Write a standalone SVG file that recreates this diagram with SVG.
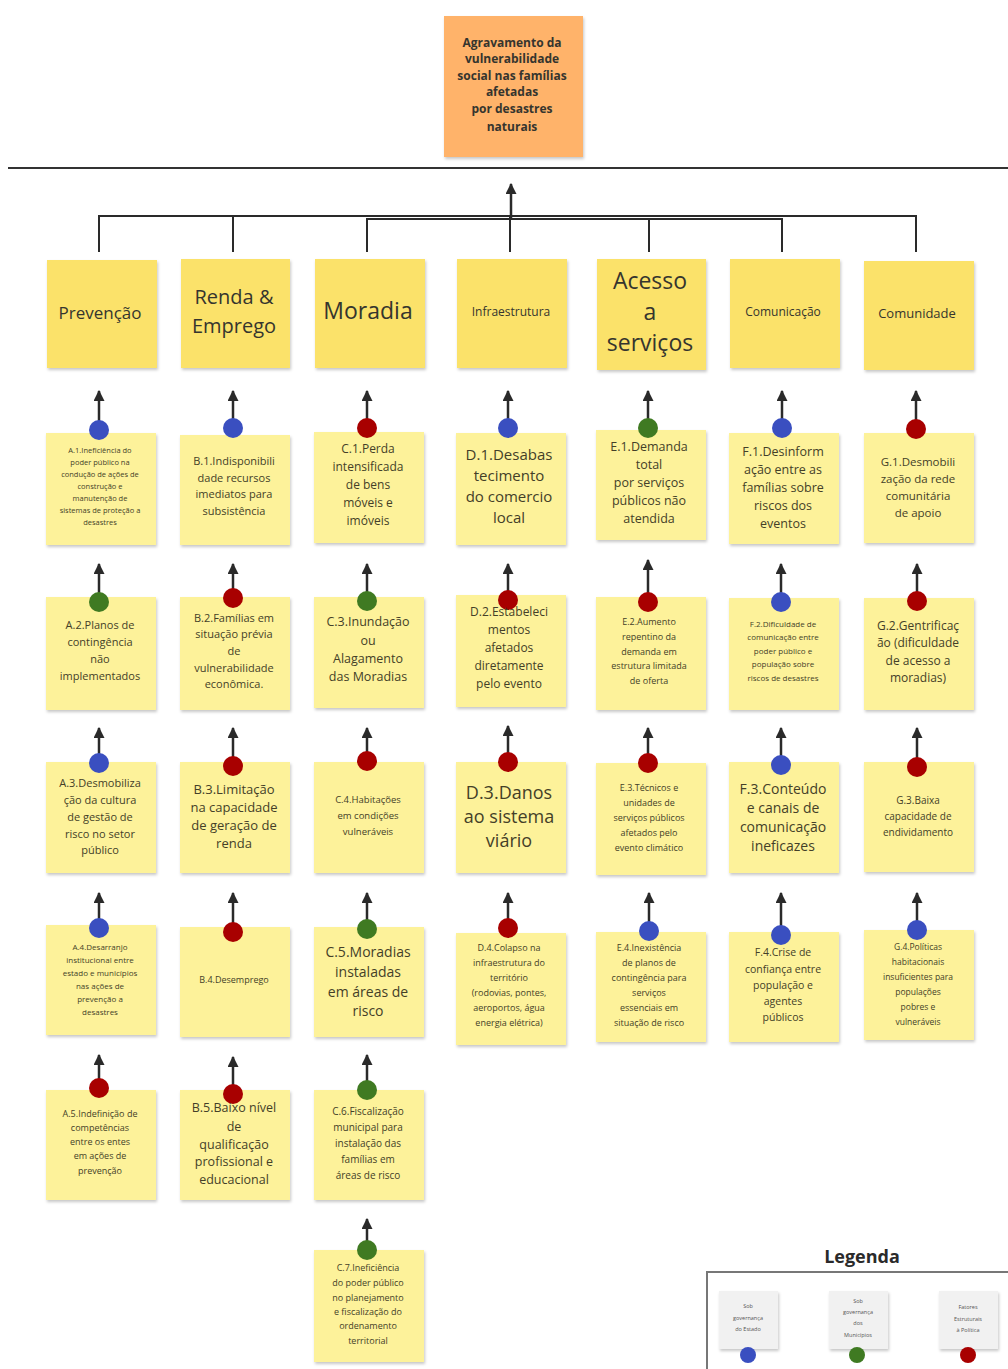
<svg xmlns="http://www.w3.org/2000/svg" width="1008" height="1369" viewBox="0 0 1008 1369">
<style>
.note{fill:#fdf29a;filter:url(#sh)}
.cat{fill:#fbe26b;filter:url(#sh)}
.t{font-family:"Open Sans","Noto Sans",sans-serif;fill:#443f28;text-anchor:middle}
.ct{font-family:"Open Sans","Noto Sans",sans-serif;fill:#35352e;text-anchor:middle}
.b{fill:#3a4fc0}.g{fill:#3f7a22}.r{fill:#a80000}
.ar{stroke:#2a2a2a;stroke-width:2.5;fill:none;marker-end:url(#ah)}
.cn{stroke:#2a2a2a;stroke-width:2;fill:none}
.lc{fill:#f1f1f1;filter:url(#sh)}
.lt{font-family:"Open Sans","Noto Sans",sans-serif;fill:#555;text-anchor:middle;font-size:5.5px}
</style>
<defs>
<filter id="sh" x="-10%" y="-10%" width="125%" height="125%"><feDropShadow dx="1" dy="2" stdDeviation="1.5" flood-color="#000" flood-opacity="0.22"/></filter>
<marker id="ah" markerUnits="userSpaceOnUse" viewBox="0 0 10 10" refX="9" refY="5" markerWidth="11" markerHeight="11" orient="auto"><path d="M0,0 L10,5 L0,10 z" fill="#2a2a2a"/></marker>
</defs>
<rect width="1008" height="1369" fill="#ffffff"/>

<g id="title">
<rect x="444" y="16" width="139" height="141" fill="#ffb36b" filter="url(#sh)"/>
<text class="ct" font-weight="bold" font-size="12" fill="#33240f"><tspan x="512" y="47">Agravamento da</tspan><tspan x="512" y="63">vulnerabilidade</tspan><tspan x="512" y="80">social nas famílias</tspan><tspan x="512" y="96">afetadas</tspan><tspan x="512" y="113">por desastres</tspan><tspan x="512" y="131">naturais</tspan></text>
</g>

<g id="connectors">
<line x1="8" y1="168" x2="1008" y2="168" stroke="#333" stroke-width="2"/>
<path class="cn" d="M99,252 V216 H511"/>
<path class="cn" d="M233,252 V216"/>
<path class="cn" d="M367,252 V219 H511"/>
<path class="cn" d="M916,252 V216 H511"/>
<path class="cn" d="M782,252 V219 H511"/>
<path class="cn" d="M649,252 V219"/>
<path class="cn" d="M510,252 V216"/>
<path class="ar" d="M511,219 V184"/>
<path class="ar" d="M99,430 V391"/><path class="ar" d="M233,428 V391"/><path class="ar" d="M367,428 V391"/><path class="ar" d="M508,428 V391"/><path class="ar" d="M648,428 V391"/><path class="ar" d="M782,428 V391"/><path class="ar" d="M916,429 V391"/>
<path class="ar" d="M99,602 V564"/><path class="ar" d="M233,598 V564"/><path class="ar" d="M367,601 V564"/><path class="ar" d="M508,600 V564"/><path class="ar" d="M648,602 V560"/><path class="ar" d="M781,602 V564"/><path class="ar" d="M917,601 V564"/>
<path class="ar" d="M99,763 V728"/><path class="ar" d="M233,766 V728"/><path class="ar" d="M367,761 V728"/><path class="ar" d="M508,762 V726"/><path class="ar" d="M648,763 V728"/><path class="ar" d="M781,765 V728"/><path class="ar" d="M917,767 V728"/>
<path class="ar" d="M99,928 V893"/><path class="ar" d="M233,932 V893"/><path class="ar" d="M367,929 V893"/><path class="ar" d="M508,928 V893"/><path class="ar" d="M649,931 V893"/><path class="ar" d="M781,935 V893"/><path class="ar" d="M917,930 V893"/>
<path class="ar" d="M99,1088 V1055"/><path class="ar" d="M233,1094 V1057"/><path class="ar" d="M367,1090 V1055"/>
<path class="ar" d="M367,1250 V1219"/>
</g>

<g id="cat-prevencao"><rect class="cat" x="47" y="260" width="110" height="108"/><text class="ct" font-size="17"><tspan x="100" y="319">Prevenção</tspan></text></g>
<g id="cat-renda"><rect class="cat" x="181" y="259" width="109" height="109"/><text class="ct" font-size="20"><tspan x="234" y="304">Renda &amp;</tspan><tspan x="234" y="333">Emprego</tspan></text></g>
<g id="cat-moradia"><rect class="cat" x="315" y="259" width="110" height="109"/><text class="ct" font-size="23"><tspan x="368" y="319">Moradia</tspan></text></g>
<g id="cat-infra"><rect class="cat" x="457" y="259" width="110" height="109"/><text class="ct" font-size="12"><tspan x="511" y="316">Infraestrutura</tspan></text></g>
<g id="cat-acesso"><rect class="cat" x="597" y="259" width="109" height="111"/><text class="ct" font-size="23"><tspan x="650" y="289">Acesso</tspan><tspan x="650" y="320">a</tspan><tspan x="650" y="351">serviços</tspan></text></g>
<g id="cat-comunicacao"><rect class="cat" x="730" y="259" width="110" height="109"/><text class="ct" font-size="12"><tspan x="783" y="316">Comunicação</tspan></text></g>
<g id="cat-comunidade"><rect class="cat" x="864" y="261" width="110" height="109"/><text class="ct" font-size="13"><tspan x="917" y="318">Comunidade</tspan></text></g>

<g id="A1"><rect class="note" x="46" y="433" width="110" height="112"/><circle class="b" cx="99" cy="430" r="10"/><text class="t" font-size="7.5"><tspan x="100" y="453">A.1.Ineficiência do</tspan><tspan x="100" y="465">poder público na</tspan><tspan x="100" y="477">condução de ações de</tspan><tspan x="100" y="489">construção e</tspan><tspan x="100" y="501">manutenção de</tspan><tspan x="100" y="513">sistemas de proteção a</tspan><tspan x="100" y="525">desastres</tspan></text></g>
<g id="A2"><rect class="note" x="46" y="597" width="110" height="113"/><circle class="g" cx="99" cy="602" r="10"/><text class="t" font-size="11"><tspan x="100" y="629">A.2.Planos de</tspan><tspan x="100" y="646">contingência</tspan><tspan x="100" y="663">não</tspan><tspan x="100" y="680">implementados</tspan></text></g>
<g id="A3"><rect class="note" x="46" y="762" width="110" height="111"/><circle class="b" cx="99" cy="763" r="10"/><text class="t" font-size="11"><tspan x="100" y="787">A.3.Desmobiliza</tspan><tspan x="100" y="804">ção da cultura</tspan><tspan x="100" y="821">de gestão de</tspan><tspan x="100" y="838">risco no setor</tspan><tspan x="100" y="854">público</tspan></text></g>
<g id="A4"><rect class="note" x="46" y="925" width="110" height="110"/><circle class="b" cx="99" cy="928" r="10"/><text class="t" font-size="8"><tspan x="100" y="950">A.4.Desarranjo</tspan><tspan x="100" y="963">institucional entre</tspan><tspan x="100" y="976">estado e municípios</tspan><tspan x="100" y="989">nas ações de</tspan><tspan x="100" y="1002">prevenção a</tspan><tspan x="100" y="1015">desastres</tspan></text></g>
<g id="A5"><rect class="note" x="46" y="1090" width="110" height="110"/><circle class="r" cx="99" cy="1088" r="10"/><text class="t" font-size="9"><tspan x="100" y="1117">A.5.Indefinição de</tspan><tspan x="100" y="1131">competências</tspan><tspan x="100" y="1145">entre os entes</tspan><tspan x="100" y="1159">em ações de</tspan><tspan x="100" y="1174">prevenção</tspan></text></g>

<g id="B1"><rect class="note" x="180" y="435" width="110" height="110"/><circle class="b" cx="233" cy="428" r="10"/><text class="t" font-size="11"><tspan x="234" y="465">B.1.Indisponibili</tspan><tspan x="234" y="482">dade recursos</tspan><tspan x="234" y="498">imediatos para</tspan><tspan x="234" y="515">subsistência</tspan></text></g>
<g id="B2"><rect class="note" x="180" y="597" width="110" height="113"/><circle class="r" cx="233" cy="598" r="10"/><text class="t" font-size="11"><tspan x="234" y="622">B.2.Famílias em</tspan><tspan x="234" y="638">situação prévia</tspan><tspan x="234" y="655">de</tspan><tspan x="234" y="672">vulnerabilidade</tspan><tspan x="234" y="688">econômica.</tspan></text></g>
<g id="B3"><rect class="note" x="180" y="762" width="110" height="111"/><circle class="r" cx="233" cy="766" r="10"/><text class="t" font-size="13"><tspan x="234" y="794">B.3.Limitação</tspan><tspan x="234" y="812">na capacidade</tspan><tspan x="234" y="830">de geração de</tspan><tspan x="234" y="848">renda</tspan></text></g>
<g id="B4"><rect class="note" x="180" y="927" width="110" height="110"/><circle class="r" cx="233" cy="932" r="10"/><text class="t" font-size="9"><tspan x="234" y="983">B.4.Desemprego</tspan></text></g>
<g id="B5"><rect class="note" x="180" y="1090" width="110" height="110"/><circle class="r" cx="233" cy="1094" r="10"/><text class="t" font-size="12.5"><tspan x="234" y="1112">B.5.Baixo nível</tspan><tspan x="234" y="1131">de</tspan><tspan x="234" y="1149">qualificação</tspan><tspan x="234" y="1166">profissional e</tspan><tspan x="234" y="1184">educacional</tspan></text></g>

<g id="C1"><rect class="note" x="314" y="432" width="110" height="111"/><circle class="r" cx="367" cy="428" r="10"/><text class="t" font-size="12"><tspan x="368" y="453">C.1.Perda</tspan><tspan x="368" y="471">intensificada</tspan><tspan x="368" y="489">de bens</tspan><tspan x="368" y="507">móveis e</tspan><tspan x="368" y="525">imóveis</tspan></text></g>
<g id="C3"><rect class="note" x="314" y="597" width="110" height="111"/><circle class="g" cx="367" cy="601" r="10"/><text class="t" font-size="12.5"><tspan x="368" y="626">C.3.Inundação</tspan><tspan x="368" y="645">ou</tspan><tspan x="368" y="663">Alagamento</tspan><tspan x="368" y="681">das Moradias</tspan></text></g>
<g id="C4"><rect class="note" x="314" y="762" width="110" height="111"/><circle class="r" cx="367" cy="761" r="10"/><text class="t" font-size="9.5"><tspan x="368" y="803">C.4.Habitações</tspan><tspan x="368" y="819">em condições</tspan><tspan x="368" y="835">vulneráveis</tspan></text></g>
<g id="C5"><rect class="note" x="314" y="927" width="110" height="110"/><circle class="g" cx="367" cy="929" r="10"/><text class="t" font-size="14"><tspan x="368" y="957">C.5.Moradias</tspan><tspan x="368" y="977">instaladas</tspan><tspan x="368" y="997">em áreas de</tspan><tspan x="368" y="1016">risco</tspan></text></g>
<g id="C6"><rect class="note" x="314" y="1090" width="110" height="110"/><circle class="g" cx="367" cy="1090" r="10"/><text class="t" font-size="10"><tspan x="368" y="1115">C.6.Fiscalização</tspan><tspan x="368" y="1131">municipal para</tspan><tspan x="368" y="1147">instalação das</tspan><tspan x="368" y="1163">famílias em</tspan><tspan x="368" y="1179">áreas de risco</tspan></text></g>
<g id="C7"><rect class="note" x="314" y="1250" width="110" height="112"/><circle class="g" cx="367" cy="1250" r="10"/><text class="t" font-size="9"><tspan x="368" y="1271">C.7.Ineficiência</tspan><tspan x="368" y="1286">do poder público</tspan><tspan x="368" y="1301">no planejamento</tspan><tspan x="368" y="1315">e fiscalização do</tspan><tspan x="368" y="1329">ordenamento</tspan><tspan x="368" y="1344">territorial</tspan></text></g>

<g id="D1"><rect class="note" x="456" y="433" width="110" height="112"/><circle class="b" cx="508" cy="428" r="10"/><text class="t" font-size="15"><tspan x="509" y="460">D.1.Desabas</tspan><tspan x="509" y="481">tecimento</tspan><tspan x="509" y="502">do comercio</tspan><tspan x="509" y="523">local</tspan></text></g>
<g id="D2"><rect class="note" x="456" y="595" width="110" height="112"/><circle class="r" cx="508" cy="600" r="10"/><text class="t" font-size="12"><tspan x="509" y="616">D.2.Estabeleci</tspan><tspan x="509" y="634">mentos</tspan><tspan x="509" y="652">afetados</tspan><tspan x="509" y="670">diretamente</tspan><tspan x="509" y="688">pelo evento</tspan></text></g>
<g id="D3"><rect class="note" x="456" y="762" width="110" height="111"/><circle class="r" cx="508" cy="762" r="10"/><text class="t" font-size="18"><tspan x="509" y="799">D.3.Danos</tspan><tspan x="509" y="823">ao sistema</tspan><tspan x="509" y="847">viário</tspan></text></g>
<g id="D4"><rect class="note" x="456" y="933" width="110" height="112"/><circle class="r" cx="508" cy="928" r="10"/><text class="t" font-size="9"><tspan x="509" y="951">D.4.Colapso na</tspan><tspan x="509" y="966">infraestrutura do</tspan><tspan x="509" y="981">território</tspan><tspan x="509" y="996">(rodovias, pontes,</tspan><tspan x="509" y="1011">aeroportos, água</tspan><tspan x="509" y="1026">energia elétrica)</tspan></text></g>

<g id="E1"><rect class="note" x="596" y="430" width="110" height="110"/><circle class="g" cx="648" cy="428" r="10"/><text class="t" font-size="12.5"><tspan x="649" y="451">E.1.Demanda</tspan><tspan x="649" y="469">total</tspan><tspan x="649" y="487">por serviços</tspan><tspan x="649" y="505">públicos não</tspan><tspan x="649" y="523">atendida</tspan></text></g>
<g id="E2"><rect class="note" x="596" y="597" width="110" height="113"/><circle class="r" cx="648" cy="602" r="10"/><text class="t" font-size="9"><tspan x="649" y="625">E.2.Aumento</tspan><tspan x="649" y="640">repentino da</tspan><tspan x="649" y="655">demanda em</tspan><tspan x="649" y="669">estrutura limitada</tspan><tspan x="649" y="684">de oferta</tspan></text></g>
<g id="E3"><rect class="note" x="596" y="763" width="110" height="112"/><circle class="r" cx="648" cy="763" r="10"/><text class="t" font-size="9"><tspan x="649" y="791">E.3.Técnicos e</tspan><tspan x="649" y="806">unidades de</tspan><tspan x="649" y="821">serviços públicos</tspan><tspan x="649" y="836">afetados pelo</tspan><tspan x="649" y="851">evento climático</tspan></text></g>
<g id="E4"><rect class="note" x="596" y="932" width="110" height="110"/><circle class="b" cx="649" cy="931" r="10"/><text class="t" font-size="9"><tspan x="649" y="951">E.4.Inexistência</tspan><tspan x="649" y="966">de planos de</tspan><tspan x="649" y="981">contingência para</tspan><tspan x="649" y="996">serviços</tspan><tspan x="649" y="1011">essenciais em</tspan><tspan x="649" y="1026">situação de risco</tspan></text></g>

<g id="F1"><rect class="note" x="729" y="433" width="110" height="111"/><circle class="b" cx="782" cy="428" r="10"/><text class="t" font-size="12.5"><tspan x="783" y="456">F.1.Desinform</tspan><tspan x="783" y="474">ação entre as</tspan><tspan x="783" y="492">famílias sobre</tspan><tspan x="783" y="510">riscos dos</tspan><tspan x="783" y="528">eventos</tspan></text></g>
<g id="F2"><rect class="note" x="729" y="598" width="110" height="112"/><circle class="b" cx="781" cy="602" r="10"/><text class="t" font-size="8"><tspan x="783" y="627">F.2.Dificuldade de</tspan><tspan x="783" y="640">comunicação entre</tspan><tspan x="783" y="654">poder público e</tspan><tspan x="783" y="667">população sobre</tspan><tspan x="783" y="681">riscos de desastres</tspan></text></g>
<g id="F3"><rect class="note" x="729" y="762" width="110" height="111"/><circle class="b" cx="781" cy="765" r="10"/><text class="t" font-size="14"><tspan x="783" y="794">F.3.Conteúdo</tspan><tspan x="783" y="813">e canais de</tspan><tspan x="783" y="832">comunicação</tspan><tspan x="783" y="851">ineficazes</tspan></text></g>
<g id="F4"><rect class="note" x="729" y="932" width="110" height="110"/><circle class="b" cx="781" cy="935" r="10"/><text class="t" font-size="10.5"><tspan x="783" y="956">F.4.Crise de</tspan><tspan x="783" y="973">confiança entre</tspan><tspan x="783" y="989">população e</tspan><tspan x="783" y="1005">agentes</tspan><tspan x="783" y="1021">públicos</tspan></text></g>

<g id="G1"><rect class="note" x="864" y="433" width="110" height="110"/><circle class="r" cx="916" cy="429" r="10"/><text class="t" font-size="11.5"><tspan x="918" y="466">G.1.Desmobili</tspan><tspan x="918" y="483">zação da rede</tspan><tspan x="918" y="500">comunitária</tspan><tspan x="918" y="517">de apoio</tspan></text></g>
<g id="G2"><rect class="note" x="864" y="598" width="110" height="112"/><circle class="r" cx="917" cy="601" r="10"/><text class="t" font-size="12"><tspan x="918" y="630">G.2.Gentrificaç</tspan><tspan x="918" y="647">ão (dificuldade</tspan><tspan x="918" y="665">de acesso a</tspan><tspan x="918" y="682">moradias)</tspan></text></g>
<g id="G3"><rect class="note" x="864" y="762" width="110" height="110"/><circle class="r" cx="917" cy="767" r="10"/><text class="t" font-size="10"><tspan x="918" y="804">G.3.Baixa</tspan><tspan x="918" y="820">capacidade de</tspan><tspan x="918" y="836">endividamento</tspan></text></g>
<g id="G4"><rect class="note" x="864" y="930" width="110" height="110"/><circle class="b" cx="917" cy="930" r="10"/><text class="t" font-size="8.5"><tspan x="918" y="950">G.4.Políticas</tspan><tspan x="918" y="965">habitacionais</tspan><tspan x="918" y="980">insuficientes para</tspan><tspan x="918" y="995">populações</tspan><tspan x="918" y="1010">pobres e</tspan><tspan x="918" y="1025">vulneráveis</tspan></text></g>

<g id="legend">
<text x="862" y="1263" font-family="'Open Sans','Noto Sans',sans-serif" font-weight="bold" font-size="18" fill="#2a2a2a" text-anchor="middle">Legenda</text>
<rect x="707" y="1272" width="310" height="110" fill="#ffffff" stroke="#777" stroke-width="2"/>
<rect class="lc" x="719" y="1291" width="59" height="58"/>
<text class="lt"><tspan x="748" y="1308">Sob</tspan><tspan x="748" y="1320">governança</tspan><tspan x="748" y="1331">do Estado</tspan></text>
<circle class="b" cx="748" cy="1355" r="8"/>
<rect class="lc" x="829" y="1291" width="59" height="58"/>
<text class="lt"><tspan x="858" y="1303">Sob</tspan><tspan x="858" y="1314">governança</tspan><tspan x="858" y="1325">dos</tspan><tspan x="858" y="1337">Municípios</tspan></text>
<circle class="g" cx="857" cy="1355" r="8"/>
<rect class="lc" x="939" y="1291" width="59" height="58"/>
<text class="lt"><tspan x="968" y="1309">Fatores</tspan><tspan x="968" y="1321">Estruturais</tspan><tspan x="968" y="1332">à Política</tspan></text>
<circle class="r" cx="968" cy="1355" r="8"/>
</g>
</svg>
